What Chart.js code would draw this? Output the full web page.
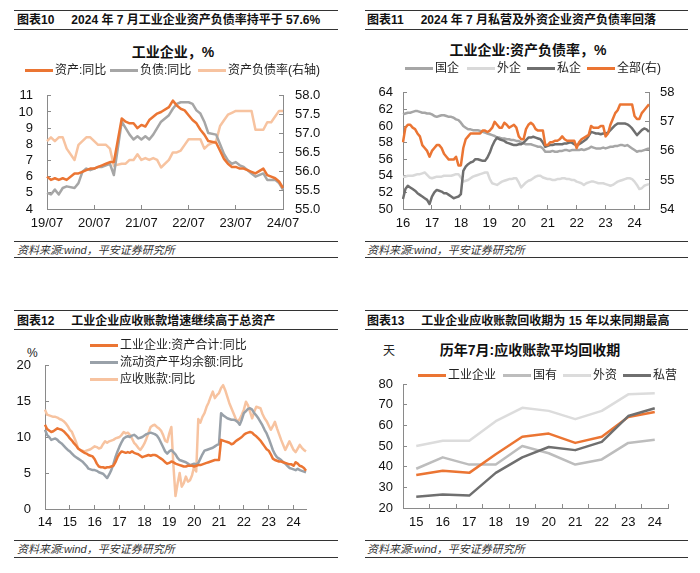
<!DOCTYPE html>
<html>
<head>
<meta charset="utf-8">
<script src="https://cdn.jsdelivr.net/npm/chart.js@4.4.1/dist/chart.umd.min.js"></script>
<style>
body{margin:0;width:700px;height:573px;background:#fff;position:relative;overflow:hidden;
  font-family:"Liberation Sans",Arial,"Noto Sans CJK SC",sans-serif;}
.rule{position:absolute;height:0;border-top:1px solid #333;}
.hdr{position:absolute;font-weight:bold;font-size:12px;color:#111;white-space:nowrap;line-height:14px;}
.hdr span{margin-right:17px;}
.src{position:absolute;font-style:italic;font-size:11px;color:#333;line-height:13px;white-space:nowrap;}
.ttl{position:absolute;font-weight:bold;font-size:14px;color:#111;transform:translateX(-50%);white-space:nowrap;line-height:16px;}
.leg{position:absolute;font-size:12px;color:#222;white-space:nowrap;line-height:14px;display:flex;align-items:center;}
.leg i{display:inline-block;width:28px;height:3px;margin-right:2px;}
.unit{position:absolute;font-size:12px;color:#222;line-height:14px;}
canvas{position:absolute;}
</style>
</head>
<body>

<div class="rule" style="left:14px;top:10px;width:324px"></div>
<div class="rule" style="left:14px;top:29px;width:324px"></div>
<div class="hdr" style="left:17px;top:13px"><span>图表10</span>2024 年 7 月工业企业资产负债率持平于 57.6%</div>
<div class="ttl" style="left:173px;top:44px">工业企业，%</div>
<canvas id="c1" width="350" height="170" style="left:0;top:70px"></canvas>
<div class="rule" style="left:14px;top:241px;width:324px"></div>
<div class="src" style="left:17px;top:244px">资料来源:wind，平安证券研究所</div>
<div class="rule" style="left:14px;top:257px;width:324px"></div>

<div class="rule" style="left:365px;top:10px;width:323px"></div>
<div class="rule" style="left:365px;top:29px;width:323px"></div>
<div class="hdr" style="left:367px;top:13px"><span>图表11</span>2024 年 7 月私营及外资企业资产负债率回落</div>
<div class="ttl" style="left:528px;top:42px">工业企业:资产负债率，%</div>
<canvas id="c2" width="350" height="170" style="left:350px;top:70px"></canvas>
<div class="rule" style="left:365px;top:241px;width:323px"></div>
<div class="src" style="left:367px;top:244px">资料来源:wind，平安证券研究所</div>
<div class="rule" style="left:365px;top:257px;width:323px"></div>

<div class="rule" style="left:14px;top:310px;width:324px"></div>
<div class="rule" style="left:14px;top:329px;width:324px"></div>
<div class="hdr" style="left:17px;top:314px"><span>图表12</span>工业企业应收账款增速继续高于总资产</div>
<div class="unit" style="left:27px;top:346px">%</div>
<canvas id="c3" width="350" height="205" style="left:0;top:335px"></canvas>
<div class="rule" style="left:14px;top:540px;width:324px"></div>
<div class="src" style="left:17px;top:543px">资料来源:wind，平安证券研究所</div>
<div class="rule" style="left:14px;top:557px;width:324px"></div>

<div class="rule" style="left:365px;top:310px;width:323px"></div>
<div class="rule" style="left:365px;top:329px;width:323px"></div>
<div class="hdr" style="left:367px;top:314px"><span>图表13</span>工业企业应收账款回收期为 15 年以来同期最高</div>
<div class="unit" style="left:383px;top:344px">天</div>
<div class="ttl" style="left:530px;top:342px">历年7月:应收账款平均回收期</div>
<canvas id="c4" width="350" height="205" style="left:350px;top:335px"></canvas>
<div class="rule" style="left:365px;top:540px;width:323px"></div>
<div class="src" style="left:367px;top:543px">资料来源:wind，平安证券研究所</div>
<div class="rule" style="left:365px;top:557px;width:323px"></div>

<script>
// ---------- chart 10: asset / liability growth, debt ratio (2019/07 - 2024/07, no January data)
const c1Ticks = ['19/07', '20/07', '21/07', '22/07', '23/07', '24/07'];
const c1Names = ['资产:同比', '负债:同比', '资产负债率(右轴)'];
const c1Asset = [
  6.0, 5.8, 5.9, 5.8, 5.9, 5.8,
  null, 6.2, 6.2, 6.3, 6.4, 6.5, 6.5, 6.6, 6.7, 6.8, 6.9, 6.9,
  null, 9.6, 9.4, 9.3, 9.3, 9.0, 9.2, 9.1, 9.5, 9.7, 9.9, 10.0,
  null, 10.3, 10.7, 10.4, 10.2, 10.1, 9.8, 9.5, 9.3, 8.9, 8.6, 8.2,
  null, 8.1, 7.6, 7.1, 6.8, 6.6, 6.6, 6.5, 6.5, 6.4, 6.3, 6.2,
  null, 6.5, 6.1, 6.0, 5.9, 5.7, 5.3
];
const c1Liab = [
  5.0, 4.9, 5.2, 4.9, 5.3, 5.4,
  null, 5.3, 5.6, 6.3, 6.5, 6.4, 6.5, 6.6, 6.6, 6.7, 6.8, 6.1,
  null, 9.4, 9.0, 8.6, 8.3, 8.5, 8.3, 8.5, 8.3, 8.6, 9.0, 9.4,
  null, 9.8, 10.2, 10.5, 10.6, 10.6, 10.6, 10.5, 10.1, 9.9, 9.4, 8.7,
  null, 8.6, 8.0, 7.4, 7.0, 6.8, 6.9, 6.7, 6.6, 6.4, 6.2, 6.0,
  null, 6.2, 5.8, 5.8, 5.8, 5.6, 5.2
];
const c1Ratio = [
  56.8, 56.9, 56.8, 56.9, 56.9, 56.6,
  null, 56.3, 56.7, 56.8, 56.9, 56.9, 56.8, 56.7, 56.7, 56.7, 56.6, 56.15,
  null, 56.2, 56.2, 56.3, 56.3, 56.45, 56.3, 56.35, 56.3, 56.35, 56.3, 56.1,
  null, 56.3, 56.5, 56.5, 56.55, 56.7, 56.85, 56.85, 56.85, 56.85, 56.6, 56.7,
  null, 56.8, 57.2, 57.35, 57.5, 57.55, 57.6, 57.6, 57.6, 57.6, 57.6, 57.1,
  null, 57.1, 57.3, 57.3, 57.45, 57.6, 57.6
];

// ---------- chart 11: debt ratio by ownership (2016/01 - 2024/07)
const c2Ticks = ['16', '17', '18', '19', '20', '21', '22', '23', '24'];
const c2Names = ['国企', '外企', '私企', '全部(右)'];
const c2Soe = [
  61.4, 61.5, 61.6, 61.6, 61.7, 61.8, 61.8, 61.7, 61.6, 61.6, 61.5, 61.5,
  61.4, 61.2, 61.1, 61.2, 61.3, 61.3, 61.2, 61.1, 61.1, 61.0, 60.8, 60.7,
  60.4, 60.0, 59.8, 59.6, 59.6, 59.5, 59.5, 59.5, 59.4, 59.3, 59.2, 59.1,
  59.0, 58.9, 58.8, 58.6, 58.6, 58.5, 58.5, 58.4, 58.4, 58.3, 58.3, 58.2,
  58.2, 58.0, 57.9, 57.8, 57.8, 57.8, 57.7, 57.6, 57.5, 57.5, 57.3, 56.9,
  56.9, 56.9, 57.0, 56.9, 56.9, 57.0, 57.0, 57.1, 57.1, 57.0, 57.1, 57.1,
  57.1, 57.1, 57.2, 57.1, 57.2, 57.3, 57.5, 57.4, 57.3, 57.3, 57.3, 57.4,
  57.3, 57.4, 57.5, 57.5, 57.6, 57.6, 57.7, 57.7, 57.6, 57.7, 57.5, 57.3,
  57.1, 56.9, 57.0, 57.0, 57.1, 57.2, 57.3
];
const c2Foreign = [
  53.9, 53.9, 54.0, 54.0, 54.0, 54.1, 54.2, 54.2, 54.3, 54.4, 54.1, 53.8,
  53.7, 53.8, 53.9, 53.9, 53.9, 54.0, 54.0, 54.0, 54.0, 54.1, 54.2, 54.2,
  53.8, 53.3, 53.4, 53.5, 53.7, 53.9, 54.0, 54.1, 54.2, 54.3, 54.4, 54.4,
  53.6, 53.1, 53.0, 52.9, 53.1, 53.3, 53.4, 53.5, 53.6, 53.6, 53.7, 53.7,
  53.2, 52.6, 52.9, 53.2, 53.4, 53.5, 53.7, 53.9, 54.0, 54.0, 53.8, 53.7,
  53.6, 53.6, 53.5, 53.5, 53.6, 53.6, 53.7, 53.7, 53.6, 53.6, 53.5, 53.5,
  53.3, 53.2, 53.1, 52.9, 53.1, 53.2, 53.3, 53.3, 53.2, 53.1, 53.1, 53.1,
  53.0, 52.9, 52.8, 52.9, 53.1, 53.3, 53.4, 53.5, 53.6, 53.7, 53.7, 53.6,
  53.3, 52.9, 52.4, 52.5, 52.8, 52.9, 53.0
];
const c2Private = [
  51.2, 52.4, 52.8, 52.6, 52.4, 52.2, 51.9, 51.7, 51.5, 51.3, 51.1, 50.6,
  51.5, 52.0, 52.3, 52.2, 52.1, 51.9, 51.9, 51.7, 51.5, 51.3, 51.4, 51.5,
  51.8, 54.6, 55.1, 55.4, 55.6, 55.7, 56.0, 56.0, 55.9, 55.8, 55.8, 56.2,
  56.8, 57.6, 58.2, 58.6, 58.4, 58.3, 58.2, 58.0, 57.9, 57.8, 57.7, 57.7,
  57.8, 57.8, 58.0, 58.3, 58.6, 58.6, 58.7, 58.6, 58.5, 58.4, 58.0, 57.5,
  57.6, 57.7, 57.7, 57.8, 57.8, 57.8, 57.8, 57.9, 57.9, 58.0, 58.0, 57.8,
  57.7, 57.8, 58.0, 58.2, 58.4, 58.8, 59.3, 59.2, 59.1, 59.1, 59.0, 59.1,
  59.1, 59.2, 59.5, 59.8, 60.1, 60.3, 60.3, 60.3, 60.3, 60.2, 60.0, 59.7,
  59.3, 58.9, 59.2, 59.5, 59.7, 59.6, 59.3
];
const c2All = [
  56.3, 56.8, 56.9, 56.9, 56.8, 56.75, 56.6, 56.5, 56.2, 56.1, 56.0, 55.8,
  56.0, 56.1, 56.2, 56.2, 56.1, 55.9, 55.8, 55.7, 55.7, 55.7, 55.8, 55.5,
  55.5, 56.1, 56.4, 56.5, 56.6, 56.6, 56.6, 56.6, 56.6, 56.7, 56.7, 56.65,
  56.7, 56.8, 57.0, 56.9, 56.8, 56.8, 56.97, 56.9, 56.8, 56.85, 56.9, 56.8,
  56.5, 56.4, 56.4, 56.75, 56.9, 56.97, 56.9, 56.75, 56.7, 56.7, 56.7, 56.2,
  56.2, 56.3, 56.3, 56.35, 56.35, 56.4, 56.5, 56.4, 56.35, 56.35, 56.35, 56.35,
  56.1, 56.3, 56.4, 56.45, 56.5, 56.55, 56.86, 56.8, 56.8, 56.8, 56.86, 56.86,
  56.5, 56.6, 56.9, 57.1, 57.3, 57.4, 57.6, 57.6, 57.6, 57.6, 57.6, 57.6,
  57.2, 57.1, 57.1, 57.3, 57.4, 57.5, 57.6
];

// ---------- chart 12: total assets, current assets, receivables yoy (2014/01 - 2024/07)
const c3Ticks = ['14', '15', '16', '17', '18', '19', '20', '21', '22', '23', '24'];
const c3Names = ['工业企业:资产合计:同比', '流动资产平均余额:同比', '应收账款:同比'];
const c3Asset = [
  11.7, 11.1, 10.9, 10.7, 10.8, 11.0, 11.2, 11.1, 11.0, 10.8, 10.5, 10.2,
  9.8, 9.5, 9.1, 8.8, 8.4, 8.2, 8.0, 7.8, 7.7, 7.5, 7.4, 7.3,
  6.9, 6.3, 5.9, 5.8, 5.8, 5.7, 5.8, 5.8, 5.9, 6.0, 6.5, 7.2,
  7.7, 8.0, 7.9, 7.8, 7.9, 7.8, 8.0, 7.8, 7.7, 7.6, 7.4, 7.2,
  7.3, 7.4, 7.5, 7.4, 7.5, 7.5, 7.4, 7.2, 7.0, 6.8, 6.5, 6.3,
  6.4, 6.6, 6.5, 6.3, 6.2, 6.1, 6.0, 5.9, 5.9, 6.0, 6.0, 6.0,
  5.9, 6.0, 6.1, 6.1, 6.2, 6.3, 6.4, 6.5, 6.6, 6.7, 6.8, 6.8,
  6.8, 9.6, 9.5, 9.4, 9.3, 9.2, 9.0, 9.1, 9.4, 9.6, 9.8, 10.0,
  10.3, 10.5, 10.6, 10.7, 10.6, 10.3, 10.1, 9.8, 9.5, 9.1, 8.7, 8.3,
  8.1, 7.6, 7.0, 6.8, 6.7, 6.6, 6.6, 6.5, 6.4, 6.3, 6.2, 6.2,
  6.0, 6.5, 6.3, 6.0, 5.9, 5.7, 5.3
];
const c3Current = [
  11.0, 10.3, 10.0, 9.6, 9.7, 9.8, 9.6, 9.3, 9.1, 8.8, 8.5, 8.2,
  8.0, 7.7, 7.4, 7.2, 7.0, 6.8, 6.6, 6.3, 6.0, 5.6, 5.5, 5.4,
  5.4, 5.3, 5.1, 5.0, 4.9, 4.6, 4.3, 4.8, 5.4, 6.2, 7.2, 8.0,
  8.7, 9.3, 9.8, 10.0, 10.1, 10.0, 10.2, 10.3, 10.1, 9.8, 9.9, 10.0,
  10.2, 10.4, 10.5, 10.6, 10.5, 10.4, 10.2, 9.8, 9.2, 8.6, 8.0, 7.7,
  8.0, 8.2, 7.9, 7.6, 7.1, 6.8, 6.7, 6.6, 6.5, 6.3, 6.1, 6.2,
  6.3, 6.2, 6.4, 7.0, 7.6, 8.1, 8.2, 8.3, 8.4, 8.5, 8.7, 8.9,
  9.0, 13.3, 13.0, 12.8, 12.6, 12.5, 12.4, 12.4, 12.3, 12.1, 11.7, 12.4,
  13.3, 13.6, 13.9, 14.0, 13.8, 13.3, 13.0, 12.6, 12.1, 11.6, 11.0, 10.5,
  9.8, 9.0, 8.2, 7.6, 7.2, 7.0, 6.8, 6.5, 6.3, 6.0, 5.7, 5.6,
  5.5, 5.4, 5.6, 5.4, 5.3, 5.2, 5.1
];
const c3Recv = [
  13.8, 13.1, 13.0, 12.9, 12.8, 12.8, 12.7, 12.5, 12.4, 12.2, 11.9, 11.5,
  11.0, 10.7, 10.0, 9.3, 8.4, 8.2, 8.1, 8.0, 8.1, 8.2, 8.3, 8.5,
  8.7, 8.6, 8.4, 8.5, 9.0, 9.4, 9.2, 9.4, 9.5, 9.6, 9.8, 9.9,
  10.0, 10.3, 10.7, 10.5, 10.6, 10.3, 9.8, 9.2, 8.9, 8.5, 8.2, 8.6,
  9.1, 9.8, 10.6, 11.4, 11.6, 11.7, 11.4, 11.2, 10.9, 10.3, 9.5, 9.3,
  10.5, 11.4, 6.0, 1.8, 3.5, 5.0, 3.1, 3.6, 4.5, 3.8, 4.0, 4.7,
  5.9, 5.2, 12.5, 12.0, 12.8, 13.3, 14.2, 14.8, 15.6, 16.3, 15.4, 15.8,
  16.1, 16.8, 17.2, 16.5, 15.6, 14.7, 14.0, 13.3, 12.6, 12.1, 12.5, 13.1,
  13.8, 14.9, 14.4, 13.5, 12.6, 13.5, 14.2, 14.1, 14.0, 13.2, 12.6, 12.2,
  11.6, 11.0, 11.5, 12.1, 11.2, 10.4, 9.6, 8.9, 8.2, 8.8, 9.4, 8.8,
  8.2, 7.9, 8.4, 8.9, 8.5, 8.2, 8.0
];

// ---------- chart 13: receivable collection days, July of each year
const c4Years = ['15', '16', '17', '18', '19', '20', '21', '22', '23', '24'];
const c4Names = ['工业企业', '国有', '外资', '私营'];
const c4Ind = [36, 38, 37, 46, 54.5, 56, 51.5, 54.5, 64, 66.5];
const c4Soe = [39, 44.5, 41, 41, 50, 46.5, 41, 43.5, 51.5, 53];
const c4For = [50, 52.5, 52.5, 62, 68.5, 67, 63, 67, 75, 75.5];
const c4Pri = [25.5, 26.5, 26, 37, 44.5, 49.5, 48, 52, 64.5, 68.3];

// colours
const ORANGE = '#eb7533';
const PEACH = '#f7c3a0';
const GREY = '#a6a6a6';
const LIGHT = '#d9d9d9';
const DARK = '#6f6f6f';
const AXIS = '#8a8a8a';

Chart.defaults.font.family = '"Liberation Sans", Arial, "Noto Sans CJK SC", sans-serif';
Chart.defaults.font.size = 13;
Chart.defaults.color = '#111';

// month categories starting at a given year/month
function months(y, m, n) {
  const out = [];
  for (let i = 0; i < n; i++) {
    const mm = (m - 1 + i) % 12 + 1;
    const yy = y + Math.floor((m - 1 + i) / 12);
    out.push(yy + '-' + String(mm).padStart(2, '0'));
  }
  return out;
}

// only every 12th month carries a label (and a tick mark)
function yearly(ticks) {
  return function (value, index) {
    return index % 12 === 0 ? ticks[index / 12] : null;
  };
}

function yScale(pos, min, max, step, width, pad, fmt) {
  return {
    position: pos, min: min, max: max,
    afterFit: s => { s.width = width; },
    border: {display: true, color: AXIS},
    grid: {drawOnChartArea: false, tickLength: -4, tickColor: AXIS},
    ticks: {stepSize: step, autoSkip: false, padding: pad, color: '#111', callback: fmt || (v => v)}
  };
}

function xScale(height, pad, cb, offset) {
  const t = {autoSkip: false, maxRotation: 0, padding: pad, color: '#111'};
  if (cb) t.callback = cb;
  return {
    type: 'category', offset: !!offset,
    afterFit: s => { s.height = height; },
    border: {display: true, color: AXIS},
    grid: {drawOnChartArea: false, tickLength: -4, tickColor: AXIS, offset: !!offset},
    ticks: t
  };
}

function line(label, data, color, axis, order) {
  return {
    label: label, data: data, borderColor: color, backgroundColor: color,
    borderWidth: 2.5, pointRadius: 0, tension: 0, spanGaps: true,
    borderJoinStyle: 'round', yAxisID: axis || 'y', order: order || 0
  };
}

function make(id, labels, datasets, scales, padding) {
  return new Chart(document.getElementById(id), {
    type: 'line',
    data: {labels: labels, datasets: datasets},
    options: {
      responsive: false, animation: false, devicePixelRatio: 1, events: [],
      layout: {padding: padding},
      plugins: {legend: {display: false}, tooltip: {enabled: false}},
      scales: scales
    }
  });
}

function addLegend(names, colors, spots) {
  names.forEach((txt, i) => {
    const d = document.createElement('div');
    d.className = 'leg';
    d.style.left = spots[i][0] + 'px';
    d.style.top = spots[i][1] + 'px';
    d.innerHTML = '<i style="background:' + colors[i] + '"></i>' + txt;
    document.body.appendChild(d);
  });
}

// chart 10
make('c1', months(2019, 7, c1Asset.length), [
  line(c1Names[0], c1Asset, ORANGE, 'y', 1),
  line(c1Names[1], c1Liab, GREY, 'y', 2),
  line(c1Names[2], c1Ratio, PEACH, 'y2', 3)
], {
  x: xScale(31, 11, yearly(c1Ticks)),
  y: yScale('left', 4, 11, 1, 47, 18),
  y2: yScale('right', 55, 58, 0.5, 67, 16, v => v.toFixed(1))
}, {top: 13, left: 0, right: 0, bottom: 0});
addLegend(c1Names, [ORANGE, GREY, PEACH], [[25, 63], [110, 63], [198, 63]]);

// chart 11
make('c2', months(2016, 1, c2Soe.length), [
  line(c2Names[3], c2All, ORANGE, 'y2', 1),
  line(c2Names[2], c2Private, DARK, 'y', 2),
  line(c2Names[0], c2Soe, GREY, 'y', 3),
  line(c2Names[1], c2Foreign, LIGHT, 'y', 4)
], {
  x: xScale(31, 11, yearly(c2Ticks)),
  y: yScale('left', 50, 64, 2, 53, 14),
  y2: yScale('right', 54, 58, 1, 51, 15)
}, {top: 10, left: 0, right: 0, bottom: 0});
addLegend(c2Names, [GREY, LIGHT, DARK, ORANGE], [[405, 61], [467, 61], [527, 61], [587, 61]]);

// chart 12
make('c3', months(2014, 1, c3Asset.length), [
  line(c3Names[0], c3Asset, ORANGE, 'y', 1),
  line(c3Names[1], c3Current, '#99a1a9', 'y', 2),
  line(c3Names[2], c3Recv, PEACH, 'y', 3)
], {
  x: xScale(31, 10, yearly(c3Ticks)),
  y: yScale('left', 0, 20, 5, 45, 18)
}, {top: 30, left: 0, right: 44, bottom: 0});
addLegend(c3Names, [ORANGE, '#99a1a9', PEACH], [[90, 338], [90, 355], [90, 372]]);

// chart 13
make('c4', c4Years, [
  line(c4Names[3], c4Pri, DARK, 'y', 1),
  line(c4Names[0], c4Ind, ORANGE, 'y', 2),
  line(c4Names[1], c4Soe, '#bdbdbd', 'y', 3),
  line(c4Names[2], c4For, '#dcdcdc', 'y', 4)
], {
  x: xScale(32, 11, null, true),
  y: yScale('left', 20, 80, 10, 53, 14)
}, {top: 49, left: 0, right: 32, bottom: 0});
addLegend(c4Names, [ORANGE, '#bdbdbd', '#dcdcdc', DARK], [[418, 368], [503, 368], [563, 368], [623, 368]]);
</script>
</body>
</html>
